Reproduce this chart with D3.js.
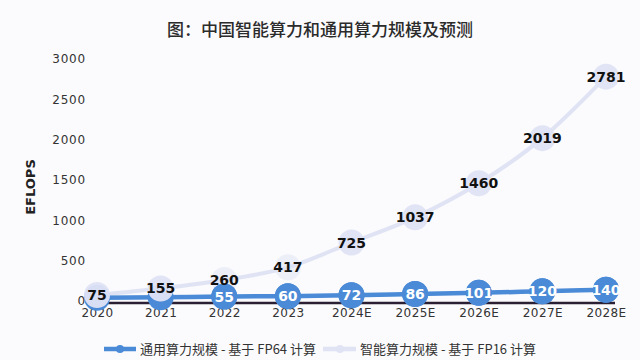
<!DOCTYPE html>
<html><head><meta charset="utf-8">
<script src="https://cdn.jsdelivr.net/npm/d3@7/dist/d3.min.js"></script>
<style>html,body{margin:0;padding:0;background:#fbfbfd;}svg{display:block;}</style>
</head><body><svg id="c" width="640" height="360"></svg>
<script>
const categories = ["2020","2021","2022","2023","2024E","2025E","2026E","2027E","2028E"];
const generalValues = [40, 47, 55, 60, 72, 86, 101, 120, 140];
const generalLabels = [null, null, "55", "60", "72", "86", "101", "120", "140"];
const aiValues = [75, 155, 260, 417, 725, 1037, 1460, 2019, 2781];
const yTicks = [0, 500, 1000, 1500, 2000, 2500, 3000];
const seriesNames = ["通用算力规模 - 基于 FP64 计算", "智能算力规模 - 基于 FP16 计算"];
const titleText = "图：中国智能算力和通用算力规模及预测";
const yTitle = "EFLOPS";

const svg = d3.select("#c");
const x = d3.scalePoint().domain(categories).range([97, 606]);
const y = d3.scaleLinear().domain([0, 3000]).range([301, 59]);
const blue = "#4a8ad6", light = "#dfe3f4";
const num = "DejaVu Sans, sans-serif", cjk = "'Noto Sans CJK SC', sans-serif";

svg.append("text").attr("x", 320).attr("y", 36).attr("text-anchor", "middle")
  .attr("font-family", cjk).attr("font-size", 17).attr("font-weight", 500).attr("fill", "#2b2b2b").text(titleText);

const yAxis = svg.append("g").attr("transform", "translate(88,0)")
  .call(d3.axisLeft(y).tickValues(yTicks).tickFormat(d3.format("d")).tickSize(0).tickPadding(2));
yAxis.select(".domain").remove();
yAxis.selectAll("text").attr("font-family", num).attr("font-size", 12).attr("fill", "#333").attr("letter-spacing", "0.8px");

svg.append("text").attr("transform", "translate(35,187) rotate(-90)").attr("text-anchor", "middle")
  .attr("font-family", num).attr("font-size", 13).attr("font-weight", "bold").attr("fill", "#222").text(yTitle);

const xAxis = svg.append("g").attr("transform", "translate(0,303)")
  .call(d3.axisBottom(x).tickSize(0).tickPadding(5));
xAxis.select(".domain").attr("d", "M97,0H615").attr("stroke", "#2a1f33").attr("stroke-width", 2.5);
xAxis.selectAll("text").attr("font-family", num).attr("font-size", 12).attr("fill", "#333").attr("letter-spacing", "0.4px");

const line = d3.line().x((d, i) => x(categories[i])).y(d => y(d)).curve(d3.curveMonotoneX);

svg.append("path").datum(aiValues).attr("d", line).attr("fill", "none").attr("stroke", light).attr("stroke-width", 4);
svg.append("path").datum(generalValues).attr("d", line).attr("fill", "none").attr("stroke", blue).attr("stroke-width", 4.5);

svg.selectAll("circle.g").data(generalValues).enter().append("circle").attr("class", "g")
  .attr("cx", (d, i) => x(categories[i])).attr("cy", d => y(d)).attr("r", 13).attr("fill", blue);
svg.selectAll("circle.a").data(aiValues).enter().append("circle").attr("class", "a")
  .attr("cx", (d, i) => x(categories[i])).attr("cy", d => y(d)).attr("r", 13)
  .attr("fill", light).attr("fill-opacity", (d, i) => (i === 2 || i === 3) ? 0.5 : 0.95);
// redraw blue circles at 2022 onward on top
svg.selectAll("circle.g2").data(generalValues.filter((d, i) => i >= 2)).enter().append("circle")
  .attr("cx", (d, i) => x(categories[i + 2])).attr("cy", d => y(d)).attr("r", 13).attr("fill", blue);

svg.selectAll("text.gl").data(generalValues.map((v, i) => ({v, i})).filter(o => generalLabels[o.i])).enter().append("text")
  .attr("x", o => x(categories[o.i])).attr("y", o => y(o.v) + 5)
  .attr("text-anchor", "middle").attr("font-family", num).attr("font-size", 14).attr("font-weight", "bold")
  .attr("fill", "#fff").text(o => generalLabels[o.i]);
svg.selectAll("text.al").data(aiValues).enter().append("text")
  .attr("x", (d, i) => x(categories[i])).attr("y", d => y(d) + 5)
  .attr("text-anchor", "middle").attr("font-family", num).attr("font-size", 14).attr("font-weight", "bold")
  .attr("fill", "#111").text(d => d);

// legend
const lg = svg.append("g");
lg.append("line").attr("x1", 104).attr("x2", 136).attr("y1", 349).attr("y2", 349).attr("stroke", blue).attr("stroke-width", 4.5);
lg.append("circle").attr("cx", 120).attr("cy", 349).attr("r", 4).attr("fill", blue);
lg.append("text").attr("x", 140).attr("y", 354).attr("font-family", cjk).attr("font-size", 13).attr("fill", "#333").text(seriesNames[0]);
lg.append("line").attr("x1", 323).attr("x2", 356).attr("y1", 349).attr("y2", 349).attr("stroke", light).attr("stroke-width", 4.5);
lg.append("circle").attr("cx", 340).attr("cy", 349).attr("r", 4).attr("fill", light);
lg.append("text").attr("x", 360).attr("y", 354).attr("font-family", cjk).attr("font-size", 13).attr("fill", "#333").text(seriesNames[1]);
</script></body></html>
